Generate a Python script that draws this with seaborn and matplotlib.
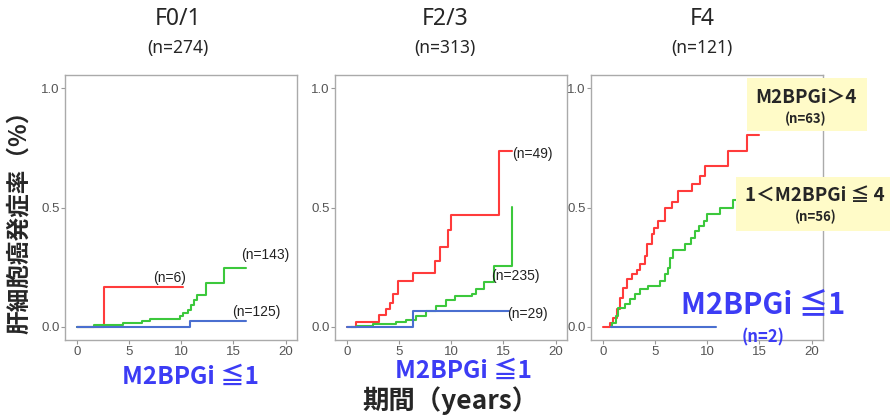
import pandas as pd
import numpy as np
import seaborn as sns
import matplotlib.pyplot as plt
from matplotlib.patches import Rectangle

sns.set_style("ticks")
plt.rcParams['font.family'] = ['Liberation Sans', 'DejaVu Sans']
CJK = ['Noto Sans CJK JP', 'DejaVu Sans']

# --- data (years, cumulative incidence) ---
panels = ["F0/1", "F2/3", "F4"]
panel_n = ["(n=274)", "(n=313)", "(n=121)"]

# F0/1
f01_red_t = [0, 2.55, 10.2]
f01_red_y = [0, 0.167, 0.167]
f01_green_t = [0, 1.6, 4.4, 6.2, 7.0, 9.9, 10.2, 10.6, 10.9, 11.2, 11.5, 12.4, 14.1, 16.2]
f01_green_y = [0, 0.006, 0.015, 0.025, 0.035, 0.045, 0.058, 0.072, 0.092, 0.113, 0.133, 0.183, 0.245, 0.245]
f01_blue_t = [0, 10.8, 16.2]
f01_blue_y = [0, 0.025, 0.025]

# F2/3
f23_red_t = [0, 0.9, 3.1, 3.7, 4.1, 4.4, 4.9, 6.3, 8.4, 8.9, 9.7, 10.0, 14.6, 15.8]
f23_red_y = [0, 0.022, 0.048, 0.075, 0.10, 0.138, 0.193, 0.227, 0.276, 0.333, 0.406, 0.468, 0.737, 0.737]
f23_green_t = [0.4, 1.0, 2.5, 4.7, 5.7, 6.6, 7.6, 8.5, 9.5, 10.4, 12.0, 12.4, 13.1, 14.1, 15.8]
f23_green_y = [0, 0.005, 0.011, 0.02, 0.03, 0.044, 0.065, 0.086, 0.111, 0.128, 0.139, 0.16, 0.187, 0.254, 0.503]
f23_blue_t = [0, 6.3, 15.5]
f23_blue_y = [0, 0.067, 0.067]

# F4
f4_red_t = [0, 0.67, 1.0, 1.3, 1.63, 1.95, 2.3, 2.76, 3.24, 3.56, 4.04, 4.2, 4.68, 4.9,
            5.3, 5.96, 6.6, 7.2, 8.5, 9.3, 9.75, 12.0, 13.8, 15.0]
f4_red_y = [0, 0.017, 0.038, 0.073, 0.122, 0.164, 0.199, 0.22, 0.24, 0.262, 0.297, 0.346, 0.388, 0.416,
            0.444, 0.5, 0.524, 0.57, 0.60, 0.633, 0.675, 0.738, 0.805, 0.805]
f4_green_t = [0.8, 0.9, 1.2, 1.4, 2.1, 2.6, 3.1, 3.56, 4.36, 5.5, 5.96, 6.2, 6.4, 6.67,
              7.9, 8.4, 8.8, 9.2, 9.7, 10.0, 11.25, 12.5, 13.8, 16.0]
f4_green_y = [0, 0.017, 0.045, 0.08, 0.094, 0.115, 0.136, 0.157, 0.171, 0.192, 0.22, 0.248, 0.29, 0.32,
              0.346, 0.374, 0.402, 0.423, 0.444, 0.472, 0.5, 0.53, 0.585, 0.585]
f4_blue_t = [0.8, 10.8]
f4_blue_y = [0, 0]

curves = [
    ("F0/1", "high", f01_red_t, f01_red_y), ("F0/1", "mid", f01_green_t, f01_green_y), ("F0/1", "low", f01_blue_t, f01_blue_y),
    ("F2/3", "high", f23_red_t, f23_red_y), ("F2/3", "mid", f23_green_t, f23_green_y), ("F2/3", "low", f23_blue_t, f23_blue_y),
    ("F4", "high", f4_red_t, f4_red_y), ("F4", "mid", f4_green_t, f4_green_y), ("F4", "low", f4_blue_t, f4_blue_y),
]
rows = []
for p, g, t, y in curves:
    for i, (tt, yy) in enumerate(zip(t, y)):
        rows.append({"panel": p, "group": g, "order": i, "time": tt, "rate": yy})
df = pd.DataFrame(rows)

palette = {"high": "#FF3B3B", "mid": "#3CC83C", "low": "#4A6FD0"}

# curve labels: (panel, text, x, y, ha)
n_labels = [
    ("F0/1", "(n=6)", 8.9, 0.205, "center"),
    ("F0/1", "(n=143)", 18.1, 0.30, "center"),
    ("F0/1", "(n=125)", 17.2, 0.064, "center"),
    ("F2/3", "(n=49)", 15.8, 0.726, "left"),
    ("F2/3", "(n=235)", 13.8, 0.212, "left"),
    ("F2/3", "(n=29)", 15.4, 0.055, "left"),
]

W, H = 890, 418
fig = plt.figure(figsize=(W / 100, H / 100), dpi=100)

def fx(px):
    return px / W

def fy(py):
    return 1 - py / H

ax_left = [65, 335, 591]
for k, p in enumerate(panels):
    ax = fig.add_axes([fx(ax_left[k]), fy(340), 232 / W, 265 / H])
    sub = df[df.panel == p]
    sns.lineplot(data=sub, x="time", y="rate", hue="group", units="group", estimator=None,
                 sort=False, palette=palette, drawstyle="steps-post", lw=1.5, legend=False, ax=ax)
    ax.set_xlim(-1.15, 21.1)
    ax.set_ylim(-0.055, 1.055)
    ax.set_xticks([0, 5, 10, 15, 20])
    ax.set_yticks([0.0, 0.5, 1.0])
    ax.set_yticklabels(["0.0", "0.5", "1.0"])
    ax.set_xlabel("")
    ax.set_ylabel("")
    ax.tick_params(labelsize=9.5, labelcolor="#555555", color="#999999", length=3, width=0.8, pad=1)
    for s in ax.spines.values():
        s.set_visible(True)
        s.set_color("#AAAAAA")
        s.set_linewidth(1.0)
    for pp, txt, x, y, ha in n_labels:
        if pp == p:
            ax.text(x, y, txt, fontsize=10, color="#222222", ha=ha, va="center")

# panel titles
title_x = [178, 445, 702]
for k, p in enumerate(panels):
    fig.text(fx(title_x[k]), fy(19), p, fontsize=16.5, ha="center", va="center", family=['Noto Sans'])
    fig.text(fx(title_x[k]), fy(48), panel_n[k], fontsize=12.5, ha="center", va="center", family=['Noto Sans'])

# axis labels
fig.text(fx(19), fy(216), "肝細胞癌発症率（%）", rotation=90, fontsize=17, fontweight="bold",
         ha="center", va="center", family=CJK)
fig.text(fx(450), fy(401), "期間（years）", fontsize=19, fontweight="bold",
         ha="center", va="center", family=CJK)

# blue low-group labels
blue = "#3C3CF5"
fig.text(fx(190), fy(377), "M2BPGi ≦1", fontsize=17.5, fontweight="bold", color=blue,
         ha="center", va="center", family=CJK)
fig.text(fx(463), fy(371), "M2BPGi ≦1", fontsize=17.5, fontweight="bold", color=blue,
         ha="center", va="center", family=CJK)
fig.text(fx(763), fy(304), "M2BPGi ≦1", fontsize=21, fontweight="bold", color=blue,
         ha="center", va="center", family=CJK)
fig.text(fx(763), fy(337), "(n=2)", fontsize=12, fontweight="bold", color=blue,
         ha="center", va="center", family=CJK)

# yellow boxes in F4
yellow = "#FFFBC8"
fig.add_artist(Rectangle((fx(747), fy(131)), 120 / W, 53 / H, transform=fig.transFigure,
                         facecolor=yellow, edgecolor="none", zorder=5))
fig.add_artist(Rectangle((fx(736), fy(231)), 154 / W, 54 / H, transform=fig.transFigure,
                         facecolor=yellow, edgecolor="none", zorder=5))
fig.text(fx(806), fy(97), "M2BPGi＞4", fontsize=13.5, fontweight="bold", ha="center", va="center",
         family=CJK, zorder=6)
fig.text(fx(806), fy(119), "(n=63)", fontsize=9.5, fontweight="bold", ha="center", va="center",
         family=CJK, zorder=6)
fig.text(fx(815), fy(196), "1＜M2BPGi ≦ 4", fontsize=13.5, fontweight="bold", ha="center", va="center",
         family=CJK, zorder=6)
fig.text(fx(816), fy(217), "(n=56)", fontsize=9.5, fontweight="bold", ha="center", va="center",
         family=CJK, zorder=6)

fig.savefig("out.png", dpi=100)
